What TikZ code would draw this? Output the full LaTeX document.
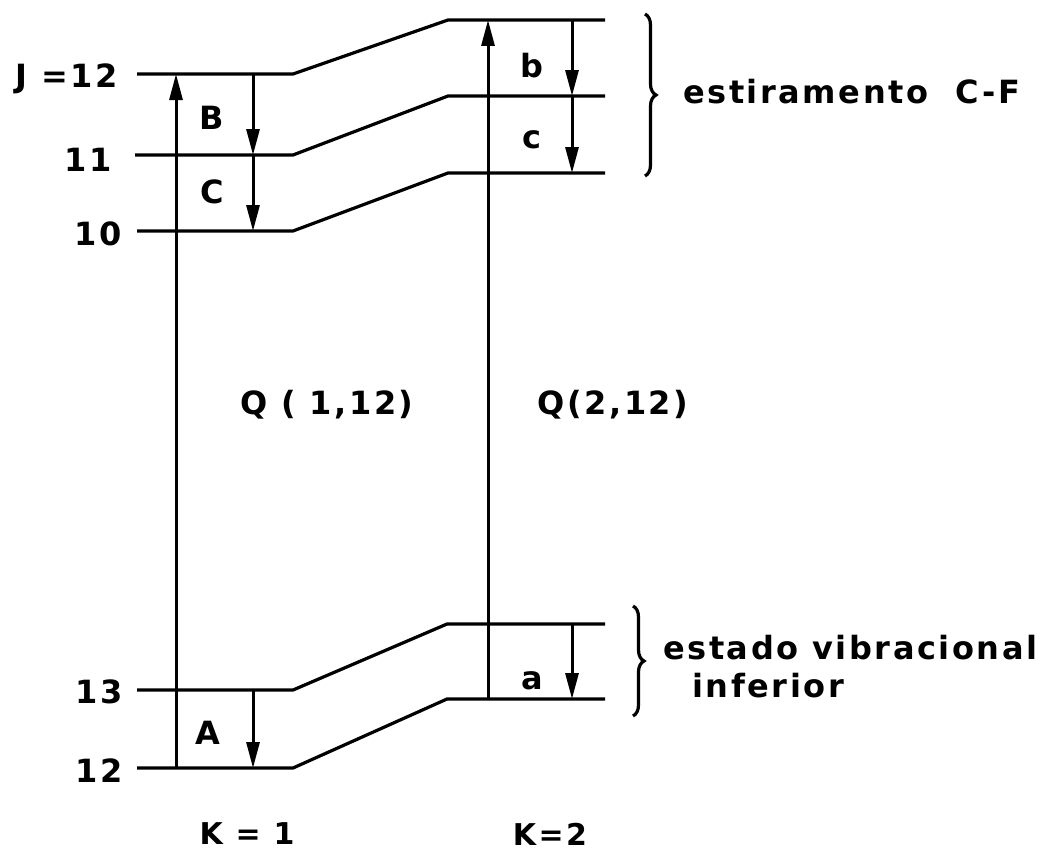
\documentclass[tikz,border=0pt]{standalone}
\usepackage{fontspec}
\setmainfont[LetterSpace=8]{DejaVu Sans}
\usetikzlibrary{arrows.meta,decorations.pathreplacing}
\begin{document}
\begin{tikzpicture}[x=1pt,y=-1pt,
  lvl/.style={line width=3.2pt},
  trans/.style={line width=3pt,-{Triangle[length=26pt,width=13pt]}},
  lab/.style={font=\fontsize{32}{38}\selectfont\bfseries, inner sep=0pt},
  klab/.style={font=\fontsize{30}{36}\selectfont\bfseries, inner sep=0pt},
  brc/.style={line width=3.2pt,decorate,decoration={brace,amplitude=11pt}}]
\useasboundingbox (0,0) rectangle (1054,859);

% level end points
\coordinate (a1) at (137,74);  \coordinate (a2) at (293,74);  \coordinate (a3) at (448,20);  \coordinate (a4) at (605,20);
\coordinate (b1) at (135,155); \coordinate (b2) at (293,155); \coordinate (b3) at (448,96);  \coordinate (b4) at (605,96);
\coordinate (c1) at (137,231); \coordinate (c2) at (293,231); \coordinate (c3) at (448,173); \coordinate (c4) at (605,173);
\coordinate (d1) at (137,690); \coordinate (d2) at (293,690); \coordinate (d3) at (447,624); \coordinate (d4) at (605,624);
\coordinate (e1) at (137,768); \coordinate (e2) at (293,768); \coordinate (e3) at (447,699); \coordinate (e4) at (605,699);

\draw[lvl] (a1) -- (a2) -- (a3) -- (a4);
\draw[lvl] (b1) -- (b2) -- (b3) -- (b4);
\draw[lvl] (c1) -- (c2) -- (c3) -- (c4);
\draw[lvl] (d1) -- (d2) -- (d3) -- (d4);
\draw[lvl] (e1) -- (e2) -- (e3) -- (e4);

% transition points
\coordinate (qL0) at (176,768); \coordinate (qL1) at (176,74);
\coordinate (qR0) at (488,699); \coordinate (qR1) at (488,20);
\coordinate (tB0) at (253,74);  \coordinate (tB1) at (253,155); \coordinate (tC1) at (253,231);
\coordinate (tA0) at (253,690); \coordinate (tA1) at (253,768);
\coordinate (tb0) at (572,20);  \coordinate (tb1) at (572,96);  \coordinate (tc1) at (572,173);
\coordinate (ta0) at (572,624); \coordinate (ta1) at (572,699);

\draw[trans] (qL0) -- (qL1);
\draw[trans] (qR0) -- (qR1);
\draw[trans] (tB0) -- (tB1);
\draw[trans] (tB1) -- (tC1);
\draw[trans] (tA0) -- (tA1);
\draw[trans] (tb0) -- (tb1);
\draw[trans] (tb1) -- (tc1);
\draw[trans] (ta0) -- (ta1);

% braces
\coordinate (br1) at (645,14);  \coordinate (br2) at (645,176);
\coordinate (br3) at (633,606); \coordinate (br4) at (633,716);
\draw[brc] (br1) -- (br2);
\draw[brc] (br3) -- (br4);

% labels
\node[lab,anchor=east] (lJ) at (118,79) {J =12};
\node[lab,anchor=east] (l11) at (112,160) {11};
\node[lab,anchor=east] (l10) at (122,234) {10};
\node[lab,anchor=east] (l13) at (123,692) {13};
\node[lab,anchor=east] (l12) at (123,771) {12};

\node[lab] (tB) at (212,118) {B};
\node[lab] (tC) at (212,192) {C};
\node[lab] (tA) at (208,733) {A};
\node[lab] (tb) at (532,66) {b};
\node[lab] (tc) at (532,140) {c};
\node[lab] (ta) at (532,681) {a};

\node[lab] (q1) at (327,405) {Q ( 1,12)};
\node[lab] (q2) at (613,405) {Q(2,12)};

\node[klab] (k1) at (247,834) {K = 1};
\node[klab] (k2) at (550,834) {K=2};

\node[lab,anchor=west] (s1) at (683,92) {estiramento\ \ C-F};
\node[lab,anchor=west] (s2) at (663,648) {estado vibracional};
\node[lab,anchor=west] (s3) at (692,686) {inferior};
\end{tikzpicture}
\end{document}
